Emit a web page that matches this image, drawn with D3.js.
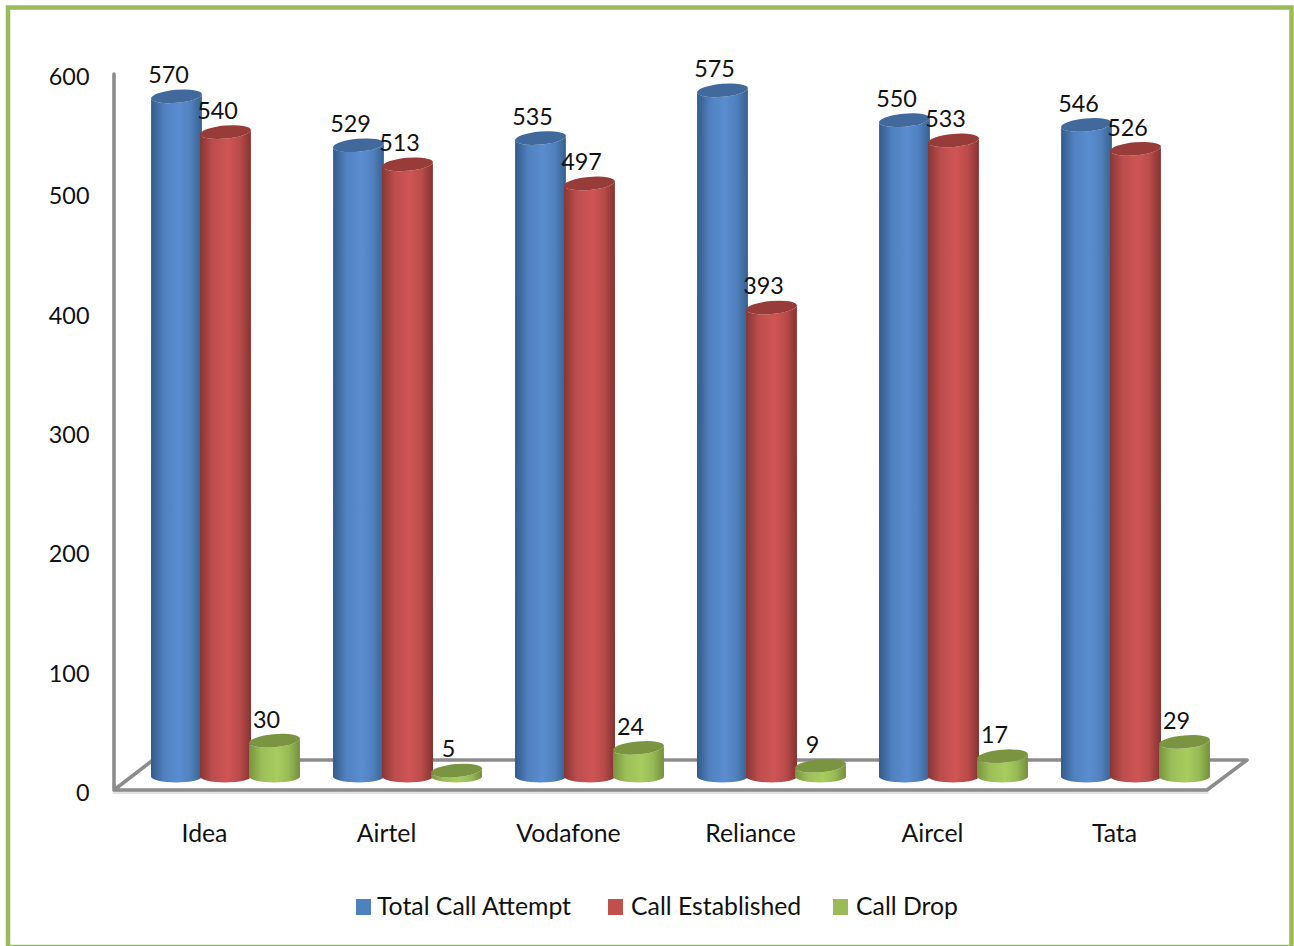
<!DOCTYPE html>
<html>
<head>
<meta charset="utf-8">
<script src="https://cdn.jsdelivr.net/npm/d3@7"></script>
<style>
html,body{margin:0;padding:0;background:#fff;overflow:hidden}
svg{display:block}
text{font-family:Lato,"Open Sans",sans-serif;fill:#111}
</style>
</head>
<body>
<svg id="c" width="1294" height="946"></svg>
<script>
const categories = ["Idea","Airtel","Vodafone","Reliance","Aircel","Tata"];
const seriesNames = ["Total Call Attempt","Call Established","Call Drop"];
const totalCallAttempt = [570,529,535,575,550,546];
const callEstablished = [540,513,497,393,533,526];
const callDrop = [30,5,24,9,17,29];
const yTicks = [0,100,200,300,400,500,600];

const allSeries = [totalCallAttempt, callEstablished, callDrop];
const palette = [
  {edge:"#335a88", mid:"#5a8dd0", right:"#37608f", top:"#41699b", key:"#4f81bd"},
  {edge:"#883634", mid:"#cf5555", right:"#843331", top:"#983c3a", key:"#c0504d"},
  {edge:"#779440", mid:"#a8cc60", right:"#748f3d", top:"#7a9442", key:"#9bbb59"}
];
const svg = d3.select("#c");
const W = 1294, H = 946;

const defs = svg.append("defs");
palette.forEach((p,i)=>{
  const g = defs.append("linearGradient").attr("id","cyl"+i).attr("x1",0).attr("x2",1).attr("y1",0).attr("y2",0);
  [[0,p.edge],[0.25,d3.interpolateRgb(p.edge,p.mid)(0.75)],[0.55,p.mid],[0.78,d3.interpolateRgb(p.right,p.mid)(0.7)],[1,p.right]]
    .forEach(([o,c])=>g.append("stop").attr("offset",o).attr("stop-color",c));
});

// frame
svg.append("rect").attr("x",8).attr("y",7.5).attr("width",1283.5).attr("height",939.5)
  .attr("fill","#fff").attr("stroke","#9bbb59").attr("stroke-width",4.5);

// scales
const labelX = d3.scalePoint().domain(categories).range([204.5,1114.5]);
const inner = d3.scalePoint().domain(d3.range(3)).range([-28,70]);
const yFront = d3.scaleLinear().domain([0,600]).range([793,77]);
const yBar = d3.scaleLinear().domain([0,600]).range([776.5,60.5]);

// 3D floor and wall
const floor = svg.append("g").attr("fill","none").attr("stroke-linecap","round");
const fL=114, fR=1207, bL=153, bR=1247, fY=790, bY=760;
floor.append("line").attr("x1",fL).attr("x2",fR).attr("y1",fY+2.5).attr("y2",fY+2.5).attr("stroke","#e2e2e2").attr("stroke-width",3);
floor.append("path").attr("d",`M${fL},74 L${fL},${fY} L${fR},${fY} L${bR},${bY} L${bL},${bY} L${fL},${fY}`)
  .attr("stroke","#8c8c8c").attr("stroke-width",3.6).attr("stroke-linejoin","round");

// y axis
const yAxis = d3.axisLeft(yFront).tickValues(yTicks).tickSize(0).tickPadding(0);
const ax = svg.append("g").attr("transform","translate(89.5,0)").call(yAxis);
ax.select(".domain").remove();
ax.selectAll("text").style("font-size","23.4px").style("font-family",'Lato,"Open Sans",sans-serif').attr("fill","#111");

// x labels
svg.append("g").selectAll("text").data(categories).join("text")
  .attr("x",d=>labelX(d)).attr("y",836).attr("text-anchor","middle").attr("dominant-baseline","middle")
  .style("font-size","24.8px").text(d=>d);

// cylinders
const rx=25.5, ryTop=6.5, ryBot=6, tiltDeg=-5, tilt=tiltDeg*Math.PI/180;
const barG = svg.append("g");
categories.forEach((cat,ci)=>{
  allSeries.forEach((vals,si)=>{
    const v = vals[ci];
    const cx = labelX(cat)+inner(si), yT = yBar(v), yB = yBar(0);
    const dx = rx*Math.cos(tilt), dy = rx*Math.sin(tilt);
    barG.append("path")
      .attr("d",`M${cx-dx},${yT-dy} L${cx-rx},${yB} A${rx},${ryBot} 0 0 0 ${cx+rx},${yB} L${cx+dx},${yT+dy} A${rx},${ryTop} ${tiltDeg} 0 1 ${cx-dx},${yT-dy} Z`)
      .attr("fill",`url(#cyl${si})`);
    barG.append("ellipse").attr("cx",0).attr("cy",0).attr("rx",rx).attr("ry",ryTop)
      .attr("transform",`translate(${cx},${yT}) rotate(${tiltDeg})`)
      .attr("fill",palette[si].top);
  });
});

// data labels
categories.forEach((cat,ci)=>{
  allSeries.forEach((vals,si)=>{
    svg.append("text").attr("x",labelX(cat)+inner(si)-8).attr("y",yBar(vals[ci])-19)
      .attr("text-anchor","middle").attr("dominant-baseline","middle")
      .style("font-size","23.4px").text(vals[ci]);
  });
});

// legend
const legendSwatch=[356,608,833], legendText=[377,631,856];
seriesNames.forEach((n,i)=>{
  svg.append("rect").attr("x",legendSwatch[i]).attr("y",899).attr("width",15).attr("height",16).attr("fill",palette[i].key);
  svg.append("text").attr("x",legendText[i]).attr("y",909).attr("dominant-baseline","middle").style("font-size","24.8px").text(n);
});
</script>
</body>
</html>
